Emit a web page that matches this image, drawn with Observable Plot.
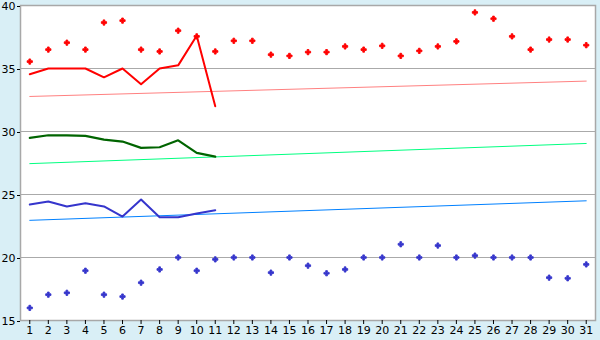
<!DOCTYPE html>
<html><head><meta charset="utf-8">
<script src="https://cdn.jsdelivr.net/npm/d3@7"></script>
<script src="https://cdn.jsdelivr.net/npm/@observablehq/plot@0.6"></script>
<style>html,body{margin:0;padding:0;background:#d9eff6;overflow:hidden;}</style>
</head><body><div id="chart"></div>
<script>
const days = [1,2,3,4,5,6,7,8,9,10,11,12,13,14,15,16,17,18,19,20,21,22,23,24,25,26,27,28,29,30,31];
const yTicks = [15,20,25,30,35,40];
const redPoints = [35.55,36.5,37.05,36.5,38.65,38.8,36.5,36.35,38.0,37.55,36.35,37.2,37.2,36.1,36.0,36.3,36.3,36.75,36.5,36.8,36.0,36.4,36.75,37.15,39.45,38.95,37.55,36.5,37.3,37.3,36.85];
const bluePoints = [16.0,17.05,17.2,18.95,17.05,16.9,18.0,19.05,20.0,18.95,19.85,20.0,20.0,18.8,20.0,19.35,18.75,19.05,20.0,20.0,21.05,20.0,20.95,20.0,20.15,20.0,20.0,20.0,18.4,18.35,19.45];
const lineDays = [1,2,3,4,5,6,7,8,9,10,11];
const redLine = [34.55,35.0,35.0,35.0,34.3,35.0,33.75,35.0,35.25,37.6,32.0];
const greenLine = [29.5,29.7,29.7,29.65,29.35,29.2,28.7,28.75,29.3,28.3,28.0];
const blueLine = [24.2,24.45,24.05,24.3,24.05,23.25,24.6,23.2,23.2,23.5,23.75];
const trendDays = [1,31];
const redTrend = [32.78,34.0];
const greenTrend = [27.45,29.05];
const blueTrend = [22.95,24.5];

const pts = (xs, ys) => xs.map((d,i)=>({day:d, v:ys[i]}));

const chart = Plot.plot({
  width: 600, height: 340,
  marginLeft: 20, marginRight: 5, marginTop: 5, marginBottom: 20,
  style: {background: "transparent", fontFamily: "DejaVu Sans, Verdana, sans-serif", fontSize: "11px", color: "black", overflow: "visible"},
  x: {domain: [0.5, 31.5], label: null},
  y: {domain: [15, 40], label: null},
  marks: [
    Plot.frame({fill: "white", stroke: null}),
    Plot.ruleY([20,25,30,35], {stroke: "#aaaaaa", strokeWidth: 1}),
    Plot.frame({stroke: "#a8a8a8", strokeWidth: 1.5}),
    Plot.line(pts(trendDays, redTrend), {x: "day", y: "v", stroke: "#ff8080", strokeWidth: 1}),
    Plot.line(pts(trendDays, greenTrend), {x: "day", y: "v", stroke: "#00ff80", strokeWidth: 1}),
    Plot.line(pts(trendDays, blueTrend), {x: "day", y: "v", stroke: "#0080ff", strokeWidth: 1}),
    Plot.line(pts(lineDays, redLine), {x: "day", y: "v", stroke: "#ff0000", strokeWidth: 2}),
    Plot.line(pts(lineDays, greenLine), {x: "day", y: "v", stroke: "#006400", strokeWidth: 2.2}),
    Plot.line(pts(lineDays, blueLine), {x: "day", y: "v", stroke: "#3535cc", strokeWidth: 2}),
    Plot.dot(pts(days, redPoints), {x: "day", y: "v", symbol: "cross", r: 2.2, fill: "#ff0000", stroke: "#ff0000", strokeWidth: 0.9}),
    Plot.dot(pts(days, bluePoints), {x: "day", y: "v", symbol: "cross", r: 2.2, fill: "#3535cc", stroke: "#3535cc", strokeWidth: 0.9}),
    Plot.axisX({ticks: days, tickFormat: d => String(d), tickSize: 4, tickPadding: 2, stroke: "black", fill: "black", label: null}),
    Plot.axisY({ticks: yTicks, tickSize: 3, tickPadding: 2, stroke: "black", fill: "black", label: null, dy: 1})
  ]
});
document.getElementById("chart").appendChild(chart);
</script>
</body></html>
